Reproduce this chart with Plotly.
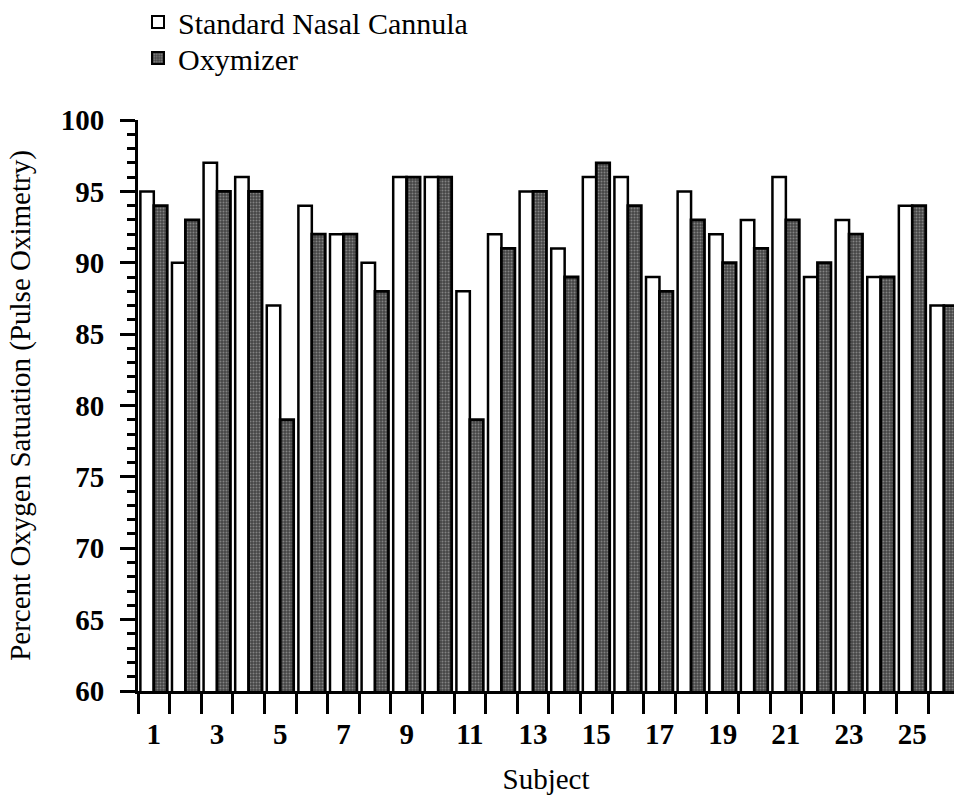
import plotly.graph_objects as go

subjects = list(range(1, 27))
standard_nasal_cannula = [95, 90, 97, 96, 87, 94, 92, 90, 96, 96, 88, 92, 95, 91, 96, 96, 89, 95, 92, 93, 96, 89, 93, 89, 94, 87]
oxymizer = [94, 93, 95, 95, 79, 92, 92, 88, 96, 96, 79, 91, 95, 89, 97, 94, 88, 93, 90, 91, 93, 90, 92, 89, 94, 87]
x_tick_labels = [str(s) for s in range(1, 26, 2)]
y_tick_values = list(range(60, 101, 5))

SERIF = "Liberation Serif, Times New Roman, serif"

fig = go.Figure()
fig.add_trace(go.Bar(
    x=subjects, y=standard_nasal_cannula, name="Standard Nasal Cannula",
    marker=dict(color="white", line=dict(color="black", width=2.5)),
    legend="legend",
))
fig.add_trace(go.Bar(
    x=subjects, y=oxymizer, name="Oxymizer",
    marker=dict(color="#505050", line=dict(color="black", width=2.8),
                pattern=dict(shape=".", fgcolor="#c0c0c0", bgcolor="#454545", size=3, solidity=0.35)),
    legend="legend2",
))

legend_common = dict(xanchor="left", yanchor="middle",
                     font=dict(size=30, family=SERIF),
                     bgcolor="rgba(0,0,0,0)", itemsizing="constant", itemwidth=30)

fig.update_layout(
    width=954, height=796,
    margin=dict(l=138, r=0, t=120, b=105, autoexpand=False),
    paper_bgcolor="white", plot_bgcolor="white",
    barmode="group", bargap=0.15, bargroupgap=0,
    font=dict(family=SERIF, color="black"),
    showlegend=True,
    legend=dict(x=0.0, y=(691 - 22) / 571, **legend_common),
    legend2=dict(x=0.0, y=(691 - 58) / 571, **legend_common),
    xaxis=dict(
        range=[0.5, 26.32], showgrid=False, zeroline=False, automargin=False,
        showline=True, linecolor="black", linewidth=3,
        tickmode="array", tickvals=list(range(1, 26, 2)), ticktext=x_tick_labels,
        ticks="outside", ticklen=8, tickcolor="rgba(0,0,0,0)", ticklabelstandoff=7,
        tickfont=dict(size=29, family=SERIF, weight="bold"),
        minor=dict(tickmode="linear", tick0=0.5, dtick=1, ticks="outside", ticklen=20, tickwidth=2.5, tickcolor="black", showgrid=False),
        title=dict(text="Subject", font=dict(size=29, family=SERIF), standoff=20),
    ),
    yaxis=dict(
        range=[60, 100], showgrid=False, zeroline=False, automargin=False,
        showline=True, linecolor="black", linewidth=3,
        tickmode="array", tickvals=y_tick_values,
        ticks="outside", ticklen=15, tickwidth=3, tickcolor="black", ticklabelstandoff=10,
        tickfont=dict(size=29, family=SERIF, weight="bold"),
        minor=dict(tickmode="linear", tick0=60, dtick=1, ticks="outside", ticklen=8, tickwidth=3, tickcolor="black", showgrid=False),
        title=dict(text="Percent Oxygen Satuation (Pulse Oximetry)", font=dict(size=29, family=SERIF), standoff=22),
    ),
)

fig.write_html("out.html")
